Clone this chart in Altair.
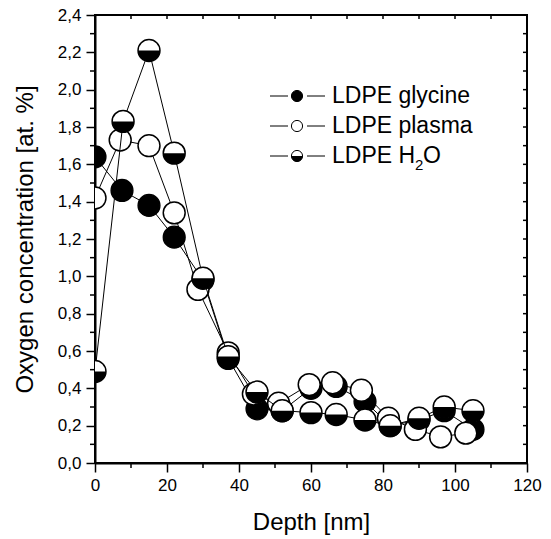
import altair as alt
import pandas as pd

# ---- data ----
depth_glycine = [0, 7.5, 15, 22, 30, 37, 45, 52, 60, 67, 75, 82, 90, 97, 105]
conc_glycine = [1.64, 1.46, 1.38, 1.21, 0.98, 0.56, 0.29, 0.28, 0.40, 0.41, 0.33, 0.20, 0.23, 0.28, 0.18]

depth_plasma = [0, 7, 15, 22, 28.6, 37, 44, 51, 59.5, 66, 74, 81.5, 89, 96, 103]
conc_plasma = [1.42, 1.73, 1.70, 1.34, 0.93, 0.59, 0.37, 0.32, 0.42, 0.43, 0.39, 0.24, 0.18, 0.14, 0.16]

depth_h2o = [0, 7.8, 15, 22, 30, 37, 45, 52, 60, 67, 75, 82, 90, 97, 105]
conc_h2o = [0.49, 1.83, 2.21, 1.66, 0.99, 0.57, 0.38, 0.28, 0.27, 0.26, 0.23, 0.20, 0.24, 0.30, 0.28]

x_major = [0, 20, 40, 60, 80, 100, 120]
x_minor = [10, 30, 50, 70, 90, 110]
y_major = [0.0, 0.2, 0.4, 0.6, 0.8, 1.0, 1.2, 1.4, 1.6, 1.8, 2.0, 2.2, 2.4]
y_minor = [0.1, 0.3, 0.5, 0.7, 0.9, 1.1, 1.3, 1.5, 1.7, 1.9, 2.1, 2.3]

legend_labels = ["LDPE glycine", "LDPE plasma", "LDPE H", "2", "O"]

FONT = "Liberation Sans"
W, H = 432, 448
SIZE = 480

df_g = pd.DataFrame({"depth": depth_glycine, "conc": conc_glycine})
df_p = pd.DataFrame({"depth": depth_plasma, "conc": conc_plasma})
df_h = pd.DataFrame({"depth": depth_h2o, "conc": conc_h2o})
all_x = pd.DataFrame({"depth": sorted(x_major + x_minor)})
all_y = pd.DataFrame({"conc": sorted(y_major + y_minor)})
xmin_df = pd.DataFrame({"depth": x_minor})
ymin_df = pd.DataFrame({"conc": y_minor})
one = pd.DataFrame({"k": [0]})

xscale = alt.Scale(domain=[0, 120], nice=False, zero=False)
yscale = alt.Scale(domain=[0, 2.4], nice=False, zero=False)

xaxis = alt.Axis(
    values=x_major, format="d", tickSize=9, tickWidth=1.5, tickColor="black",
    domainColor="black", domainWidth=2, labelFontSize=17, labelFont=FONT,
    labelColor="black", labelPadding=5, labelFlush=False, grid=False,
    title="Depth [nm]", titleFont=FONT, titleFontSize=24, titleFontWeight="normal",
    titleColor="black", titlePadding=17,
)
yaxis = alt.Axis(
    values=y_major, labelExpr="replace(format(datum.value, '.1f'), '.', ',')",
    tickSize=9, tickWidth=1.5, tickColor="black", domainColor="black", domainWidth=2,
    labelFontSize=17, labelFont=FONT, labelColor="black", labelPadding=5,
    labelFlush=False, grid=False,
    title="Oxygen concentration [at. %]", titleFont=FONT, titleFontSize=24,
    titleFontWeight="normal", titleColor="black", titlePadding=20,
)

def X():
    return alt.X("depth:Q", scale=xscale, axis=xaxis)

def Y():
    return alt.Y("conc:Q", scale=yscale, axis=yaxis)

HALF = "M -1 0 A 1 1 0 0 0 1 0 Z"

layers = []
# glycine
layers.append(alt.Chart(df_g).mark_line(color="black", strokeWidth=1, clip=True).encode(x=X(), y=Y()))
layers.append(alt.Chart(df_g).mark_point(shape="circle", filled=True, color="black", stroke="black",
                                         strokeWidth=1.3, size=SIZE, opacity=1, clip=True).encode(x=X(), y=Y()))
# plasma
layers.append(alt.Chart(df_p).mark_line(color="black", strokeWidth=1, clip=True).encode(x=X(), y=Y()))
layers.append(alt.Chart(df_p).mark_point(shape="circle", filled=True, color="white", stroke="black",
                                         strokeWidth=1.5, size=SIZE, opacity=1, clip=True).encode(x=X(), y=Y()))
# H2O
layers.append(alt.Chart(df_h).mark_line(color="black", strokeWidth=1, clip=True).encode(x=X(), y=Y()))
layers.append(alt.Chart(df_h).mark_point(shape="circle", filled=True, color="white", strokeWidth=0,
                                         size=SIZE, opacity=1, clip=True).encode(x=X(), y=Y()))
layers.append(alt.Chart(df_h).mark_point(shape=HALF, filled=True, color="black", strokeWidth=0,
                                         size=SIZE, opacity=1, clip=True).encode(x=X(), y=Y()))
layers.append(alt.Chart(df_h).mark_point(shape="circle", filled=False, color="black", strokeWidth=1.5,
                                         size=SIZE, opacity=1, clip=True).encode(x=X(), y=Y()))

# minor ticks (bottom, left), ticks on top and right
layers.append(alt.Chart(xmin_df).mark_rule(color="black", strokeWidth=1.5).encode(
    x=X(), y=alt.value(H), y2=alt.value(H + 5)))
layers.append(alt.Chart(ymin_df).mark_rule(color="black", strokeWidth=1.5).encode(
    y=Y(), x=alt.value(-5), x2=alt.value(0)))
layers.append(alt.Chart(all_x).mark_rule(color="black", strokeWidth=1.5).encode(
    x=X(), y=alt.value(0), y2=alt.value(4)))
layers.append(alt.Chart(all_y).mark_rule(color="black", strokeWidth=1.5).encode(
    y=Y(), x=alt.value(W), x2=alt.value(W - 4)))

# legend (manual)
rows = [81, 111, 141]
lsz = 125
for r in rows:
    layers.append(alt.Chart(one).mark_rule(color="black", strokeWidth=1).encode(
        x=alt.value(175), x2=alt.value(193), y=alt.value(r)))
    layers.append(alt.Chart(one).mark_rule(color="black", strokeWidth=1).encode(
        x=alt.value(212), x2=alt.value(230), y=alt.value(r)))
layers.append(alt.Chart(one).mark_point(shape="circle", filled=True, color="black", size=lsz, opacity=1,
                                        stroke="black", strokeWidth=1).encode(x=alt.value(202), y=alt.value(rows[0])))
layers.append(alt.Chart(one).mark_point(shape="circle", filled=True, color="white", size=lsz, opacity=1,
                                        stroke="black", strokeWidth=1).encode(x=alt.value(202), y=alt.value(rows[1])))
layers.append(alt.Chart(one).mark_point(shape="circle", filled=True, color="white", size=lsz, opacity=1,
                                        strokeWidth=0).encode(x=alt.value(202), y=alt.value(rows[2])))
layers.append(alt.Chart(one).mark_point(shape=HALF, filled=True, color="black", size=lsz, opacity=1,
                                        strokeWidth=0).encode(x=alt.value(202), y=alt.value(rows[2])))
layers.append(alt.Chart(one).mark_point(shape="circle", filled=False, color="black", size=lsz, opacity=1,
                                        strokeWidth=1).encode(x=alt.value(202), y=alt.value(rows[2])))

def txt(s, x, y, size=23):
    return alt.Chart(one).mark_text(text=s, font=FONT, fontSize=size, color="black", align="left",
                                    baseline="middle").encode(x=alt.value(x), y=alt.value(y))

layers.append(txt(legend_labels[0], 237, rows[0]))
layers.append(txt(legend_labels[1], 237, rows[1]))
layers.append(txt(legend_labels[2], 237, rows[2]))
layers.append(txt(legend_labels[3], 320, rows[2] + 9, 15))
layers.append(txt(legend_labels[4], 328, rows[2]))

chart = alt.layer(*layers).properties(
    width=W, height=H,
    autosize=alt.AutoSizeParams(type="none"),
    padding={"left": 95, "top": 15, "right": 24, "bottom": 76},
    background="white",
).configure_view(stroke="black", strokeWidth=2)

chart.save("out.html", embed_options={"renderer": "svg", "actions": False})
